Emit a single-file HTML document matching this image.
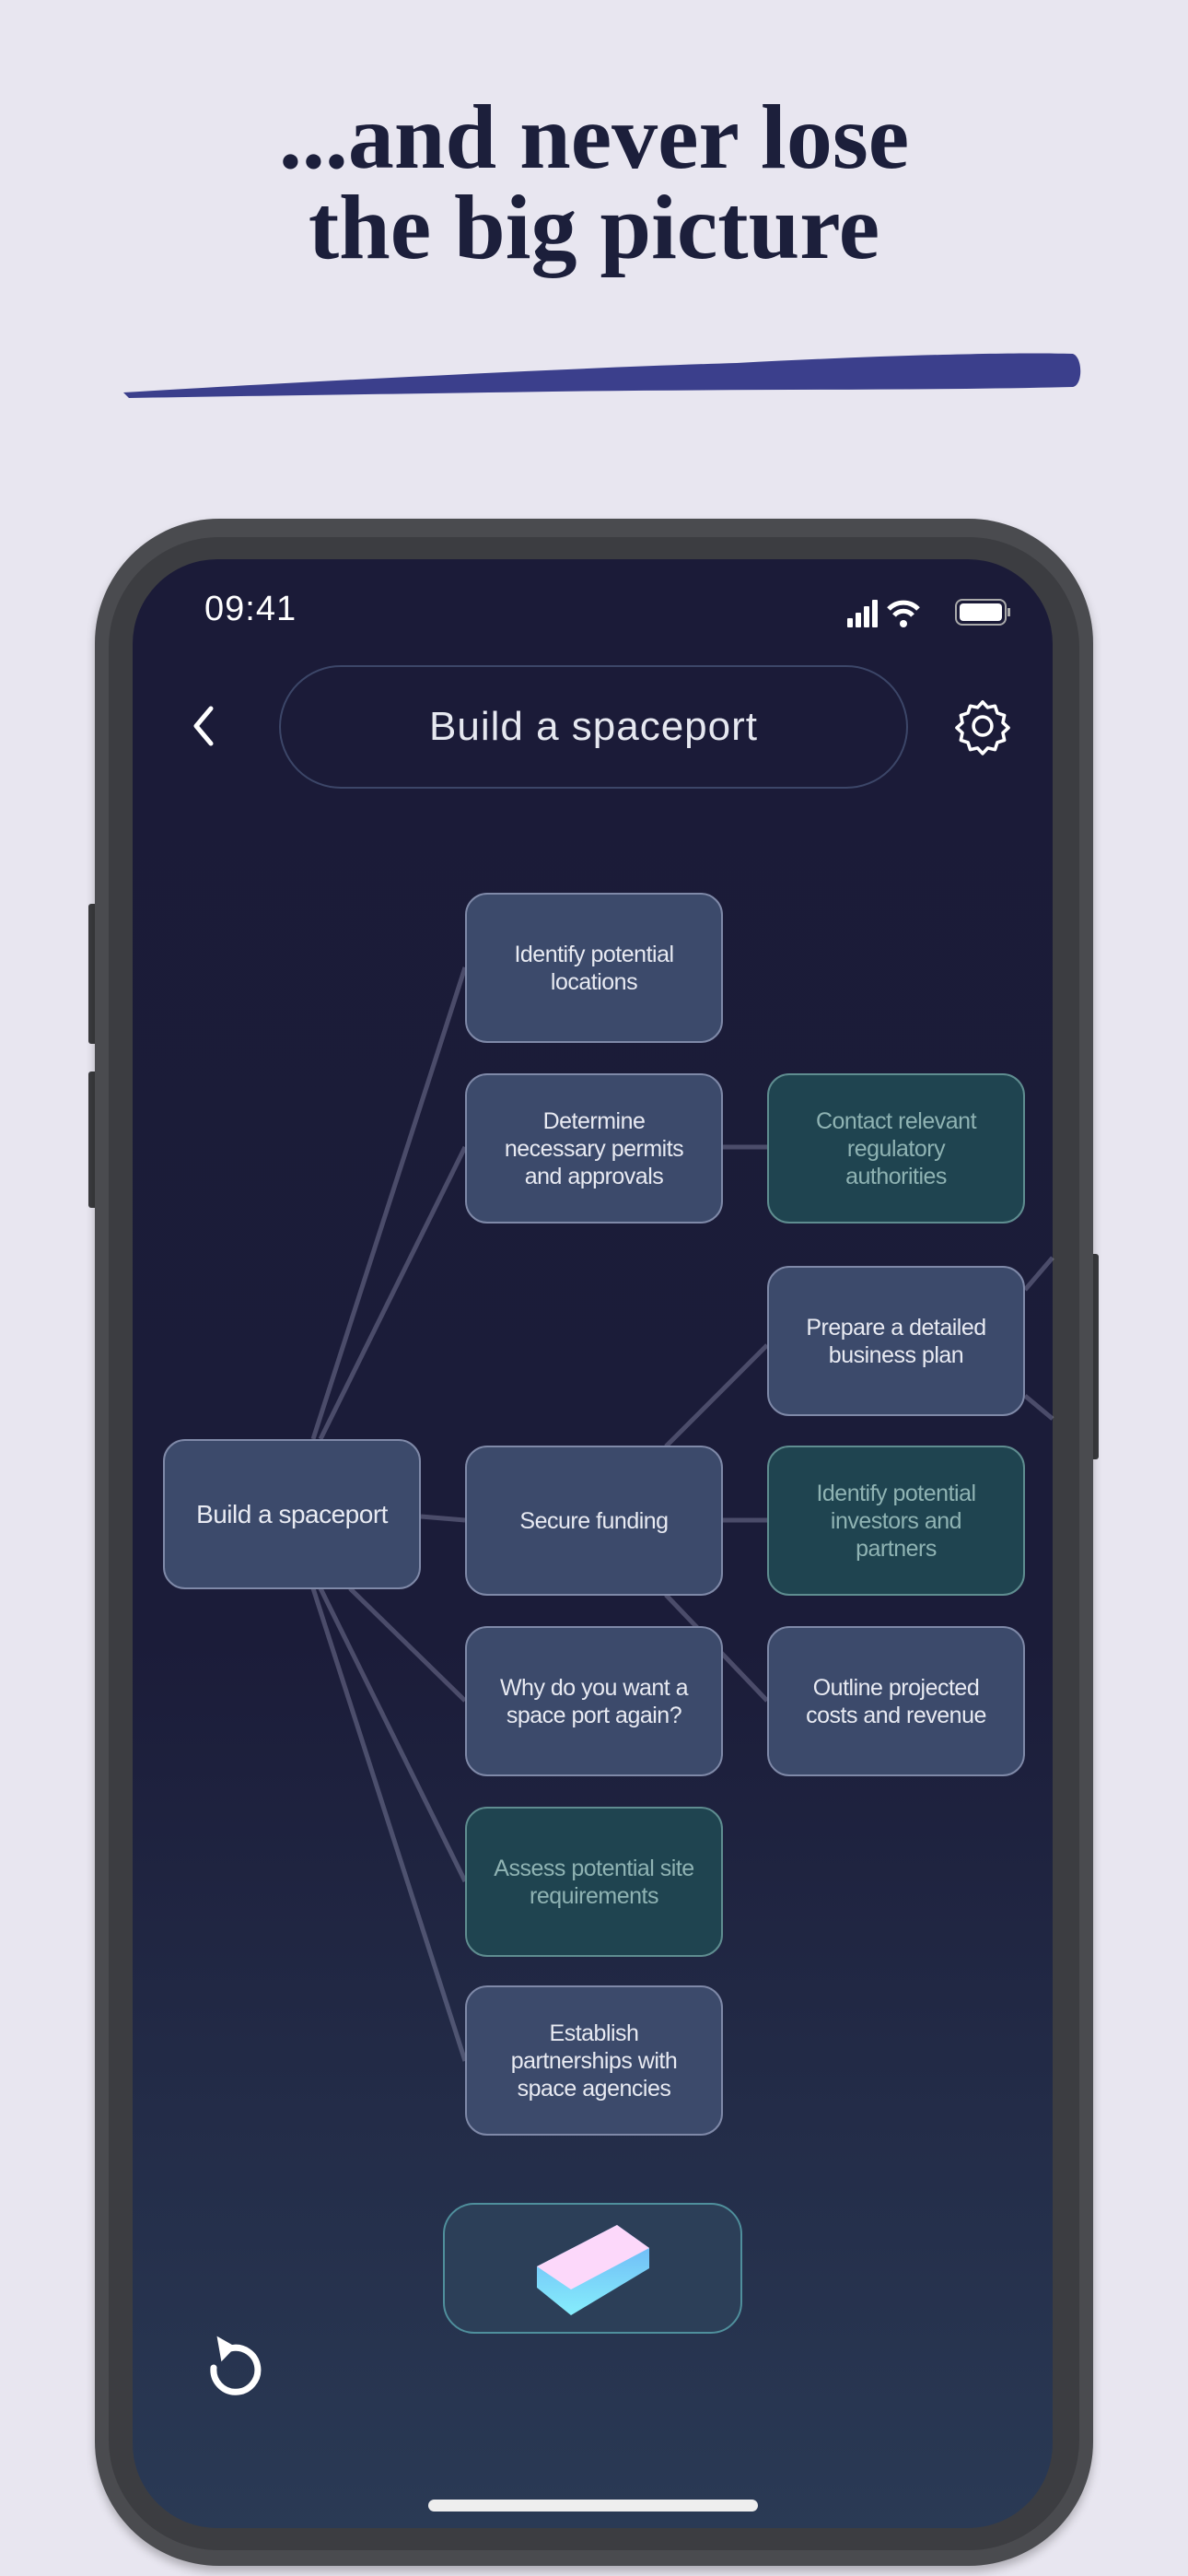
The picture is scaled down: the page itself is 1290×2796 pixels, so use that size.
<!DOCTYPE html>
<html><head><meta charset="utf-8"><style>
*{margin:0;padding:0;box-sizing:border-box}
body{width:1290px;height:2796px;background:#e8e6f0;position:relative;overflow:hidden;font-family:"Liberation Sans",sans-serif}
.title{position:absolute;left:0;width:1290px;top:100px;text-align:center;font-family:"Liberation Serif",serif;font-weight:bold;font-size:100px;line-height:98px;color:#1c1f3b}
.abs{position:absolute}
.node{position:absolute;width:280px;height:163px;border-radius:24px;background:#3c4a6b;border:2px solid #7f89a8;color:#e8eaf2;font-size:25px;line-height:30px;display:flex;align-items:center;justify-content:center;text-align:center;padding:0 10px;letter-spacing:-0.5px}
.teal{background:#1f4450;border-color:#5f8d90;color:#8fb3b3}
</style></head><body>
<div class="title">...and never lose<br>the big picture</div>
<svg class="abs" style="left:0;top:0" width="1290" height="500"><path d="M134 426 C300 416 600 400 800 394 C950 386 1100 382 1165 384 C1176 388 1176 418 1165 420 C1000 424 800 422 600 425 C400 428 250 430 140 432 Z" fill="#3b3f8c"/></svg>
<!-- phone -->
<div class="abs" style="left:96px;top:981px;width:10px;height:152px;background:#3a3b3e;border-radius:3px"></div>
<div class="abs" style="left:96px;top:1163px;width:10px;height:148px;background:#3a3b3e;border-radius:3px"></div>
<div class="abs" style="left:1184px;top:1361px;width:9px;height:223px;background:#3a3b3e;border-radius:3px"></div>
<div class="abs" style="left:103px;top:563px;width:1084px;height:2222px;border-radius:135px;background:#4a4b4f;box-shadow:0 6px 10px rgba(0,0,0,0.25)"></div>
<div class="abs" style="left:118px;top:583px;width:1054px;height:2185px;border-radius:120px;background:#3c3d41"></div>
<div class="abs" style="left:144px;top:607px;width:999px;height:2137px;border-radius:92px;background:linear-gradient(180deg,#1b1b38 0%,#1b1c39 55%,#2a3a55 100%);overflow:hidden">
</div>
<div class="abs" style="left:222px;top:640px;color:#fff;font-size:38px;letter-spacing:1px">09:41</div>
<svg class="abs" style="left:918px;top:645px" width="185" height="40">
<rect x="2" y="26" width="6" height="10" rx="1" fill="#fff"/><rect x="11" y="20" width="6" height="16" rx="1" fill="#fff"/><rect x="20" y="13" width="6" height="23" rx="1" fill="#fff"/><rect x="29" y="6" width="6" height="30" rx="1" fill="#fff"/>
<path d="M47 16 A22 22 0 0 1 79 16" stroke="#fff" stroke-width="5" fill="none"/><path d="M53 23 A13 13 0 0 1 73 23" stroke="#fff" stroke-width="5" fill="none"/><circle cx="63" cy="32" r="4" fill="#fff"/>
<rect x="120" y="6" width="54" height="27" rx="7" stroke="#aaa" stroke-width="2" fill="none"/><rect x="124" y="10" width="46" height="19" rx="4" fill="#fff"/><rect x="176" y="15" width="3" height="9" fill="#aaa"/>
</svg>
<svg class="abs" style="left:205px;top:765px" width="30" height="46"><path d="M24 4 L8 23 L24 42" stroke="#fff" stroke-width="5" fill="none" stroke-linecap="round" stroke-linejoin="round"/></svg>
<div class="abs" style="left:303px;top:722px;width:683px;height:134px;border-radius:67px;border:2px solid #3c4668;color:#e6e8f0;font-size:44px;display:flex;align-items:center;justify-content:center;letter-spacing:1px">Build a spaceport</div>
<svg class="abs" style="left:1034px;top:755px" width="66" height="66" viewBox="0 0 24 24"><path d="M12 2.5l2 2.2 2.9-.6.9 2.8 2.8.9-.6 2.9 2.2 2-2.2 2 .6 2.9-2.8.9-.9 2.8-2.9-.6-2 2.2-2-2.2-2.9.6-.9-2.8-2.8-.9.6-2.9-2.2-2 2.2-2-.6-2.9 2.8-.9.9-2.8 2.9.6z" fill="none" stroke="#fff" stroke-width="1.3" stroke-linejoin="round"/><circle cx="12" cy="12" r="3.6" fill="none" stroke="#fff" stroke-width="1.3"/></svg>
<!-- connectors -->
<svg class="abs" style="left:0;top:0" width="1290" height="2796"><g stroke="rgba(200,200,235,0.28)" stroke-width="5" fill="none">
<line x1="340" y1="1562" x2="505" y2="1050"/>
<line x1="348" y1="1562" x2="505" y2="1245"/>
<line x1="457" y1="1646" x2="505" y2="1650"/>
<line x1="340" y1="1724" x2="505" y2="2237"/>
<line x1="348" y1="1724" x2="505" y2="2042"/>
<line x1="380" y1="1724" x2="505" y2="1846"/>
<line x1="784" y1="1245" x2="833" y2="1245"/>
<line x1="784" y1="1650" x2="833" y2="1650"/>
<line x1="723" y1="1570" x2="833" y2="1460"/>
<line x1="723" y1="1731" x2="833" y2="1846"/>
<line x1="1113" y1="1400" x2="1143" y2="1365"/>
<line x1="1113" y1="1515" x2="1143" y2="1540"/>
</g></svg>
<div class="node" style="left:177px;top:1562px;font-size:28px">Build a spaceport</div>
<div class="node" style="left:505px;top:969px">Identify potential<br>locations</div>
<div class="node" style="left:505px;top:1165px">Determine<br>necessary permits<br>and approvals</div>
<div class="node teal" style="left:833px;top:1165px">Contact relevant<br>regulatory<br>authorities</div>
<div class="node" style="left:833px;top:1374px">Prepare a detailed<br>business plan</div>
<div class="node" style="left:505px;top:1569px">Secure funding</div>
<div class="node teal" style="left:833px;top:1569px">Identify potential<br>investors and<br>partners</div>
<div class="node" style="left:505px;top:1765px">Why do you want a<br>space port again?</div>
<div class="node" style="left:833px;top:1765px">Outline projected<br>costs and revenue</div>
<div class="node teal" style="left:505px;top:1961px">Assess potential site<br>requirements</div>
<div class="node" style="left:505px;top:2155px">Establish<br>partnerships with<br>space agencies</div>
<!-- eraser -->
<div class="abs" style="left:481px;top:2391px;width:325px;height:142px;border-radius:34px;background:#2c3f58;border:2px solid #4f8f9c"></div>
<svg class="abs" style="left:570px;top:2405px" width="150" height="120">
<defs><linearGradient id="g" x1="0" y1="0" x2="0" y2="1"><stop offset="0" stop-color="#6aaef5"/><stop offset="1" stop-color="#86eefc"/></linearGradient></defs>
<path d="M13 55 L13 78 L50 108 L135 57 L135 35 L100 10 Z" fill="url(#g)"/>
<path d="M13 55 L50 80 L135 35 L100 10 Z" fill="#fcd8fa"/>
</svg>
<svg class="abs" style="left:212px;top:2522px" width="80" height="90"><path d="M20 48 A24 24 0 1 0 38 27" stroke="#fff" stroke-width="7" fill="none" stroke-linecap="round"/><path d="M26 12 L44 27 L26 40 Z" fill="#fff" transform="rotate(-10 34 27)"/></svg>
<div class="abs" style="left:465px;top:2713px;width:358px;height:13px;border-radius:7px;background:#eeeeee"></div>
</body></html>
